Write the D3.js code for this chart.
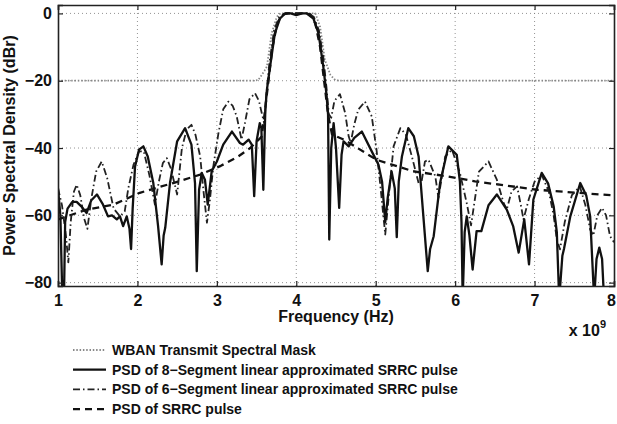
<!DOCTYPE html>
<html><head><meta charset="utf-8">
<script src="https://cdn.jsdelivr.net/npm/d3@7"></script>
<style>
body{margin:0;background:#fff;}
text{font-family:"Liberation Sans",Arial,Helvetica,sans-serif;font-weight:bold;fill:#111;}
</style></head>
<body><svg id="chart" width="617" height="424"></svg>
<script>
// ---- data (frequency in units of 1e9 Hz, PSD in dBr) ----
const xTicks = [1, 2, 3, 4, 5, 6, 7, 8];
const yTicks = [0, -20, -40, -60, -80];
const legendLabels = [
  "WBAN Transmit Spectral Mask",
  "PSD of 8\u2212Segment linear approximated SRRC pulse",
  "PSD of 6\u2212Segment linear approximated SRRC pulse",
  "PSD of SRRC pulse"
];
const maskData = [[1,-20],[3.46,-20],[3.52,-19.8],[3.565,-18.3],[3.6,-17],[3.63,-15.8],[3.69,-5.9],[3.755,-1],[3.8,0],
  [4.24,0],[4.3,-4],[4.36,-13.8],[4.43,-18.3],[4.49,-19.8],[4.55,-20],[8,-20]];
const seg8Data = [[1.0,-52],[1.03,-60],[1.055,-85],[1.075,-85],[1.09,-62],[1.12,-58],[1.18,-56],[1.235,-56],[1.3,-57.5],[1.36,-59.3],
  [1.42,-55.5],[1.49,-53.8],[1.56,-56.5],[1.63,-60.3],[1.68,-60],[1.74,-61.2],[1.78,-60.3],[1.82,-63.2],[1.865,-60.3],[1.9,-64],
  [1.92,-70],[1.94,-58],[1.97,-45.5],[2.02,-40.5],[2.075,-39.5],[2.13,-42.5],[2.2,-50.4],[2.26,-63.2],[2.305,-74.6],[2.33,-66],
  [2.35,-63.7],[2.41,-50.4],[2.5,-38],[2.6,-34.1],[2.68,-39],[2.725,-50.4],[2.747,-76.6],[2.776,-52.4],[2.81,-47.4],[2.85,-49.4],
  [2.885,-56.8],[2.935,-46.9],[3.0,-44],[3.08,-39],[3.19,-35.1],[3.29,-38.5],[3.33,-39],[3.4,-37.5],[3.44,-39],[3.47,-54.3],
  [3.5,-38],[3.54,-32.6],[3.56,-34],[3.585,-52.4],[3.61,-28.6],[3.63,-22.7],[3.67,-15.8],[3.73,-5.9],[3.795,-1.5],[3.86,0],
  [3.93,0],[4.0,-0.5],[4.07,0],[4.13,0],[4.215,-1.5],[4.28,-5.9],[4.34,-15.8],[4.38,-24],[4.4,-30],[4.415,-67.2],[4.44,-40],
  [4.47,-32.6],[4.5,-40],[4.54,-57.8],[4.57,-42],[4.595,-38],[4.66,-39.5],[4.73,-37],[4.825,-35.1],[4.95,-41],[5.035,-45],
  [5.08,-50],[5.12,-62],[5.15,-55],[5.2,-47],[5.24,-52],[5.265,-66.5],[5.29,-50],[5.33,-42.5],[5.41,-34.1],[5.48,-36.5],
  [5.54,-42.5],[5.6,-60.3],[5.655,-76.6],[5.685,-70],[5.73,-66.2],[5.81,-50.4],[5.915,-39.5],[6.02,-42],[6.06,-50],[6.08,-62],
  [6.095,-85],[6.12,-65],[6.146,-60.3],[6.18,-66],[6.22,-76.1],[6.27,-64.7],[6.33,-64.7],[6.42,-57],[6.525,-53.8],[6.65,-58.3],
  [6.73,-63.2],[6.8,-71.1],[6.87,-61.2],[6.93,-74.6],[6.985,-55.3],[7.09,-47.4],[7.17,-50.5],[7.24,-57.3],[7.28,-65],[7.31,-85],
  [7.35,-72],[7.37,-70],[7.45,-60.3],[7.575,-50.4],[7.65,-54],[7.7,-60.3],[7.75,-85],[7.78,-73],[7.815,-69.6],[7.85,-73],
  [7.875,-85],[8.0,-85]];
const seg6Data = [[1.0,-52],[1.05,-57],[1.1,-66],[1.13,-74],[1.16,-62],[1.2,-53],[1.235,-50.9],[1.28,-54],[1.33,-61],[1.37,-64],
  [1.42,-55],[1.48,-47],[1.55,-44],[1.62,-49],[1.7,-58],[1.78,-60.3],[1.84,-58.8],[1.885,-52],[1.95,-45],[2.02,-41],[2.08,-41],
  [2.15,-48],[2.22,-56.8],[2.27,-50],[2.32,-44.5],[2.37,-43],[2.42,-46],[2.5,-53.8],[2.56,-40],[2.62,-34.5],[2.68,-33.1],
  [2.73,-36],[2.79,-42.5],[2.83,-52.4],[2.875,-62.2],[2.91,-56],[2.955,-45.5],[3.02,-35.6],[3.08,-28.5],[3.145,-26.2],[3.2,-27.5],
  [3.25,-30.6],[3.31,-37.5],[3.35,-33],[3.41,-25.5],[3.48,-23.7],[3.53,-26],[3.565,-29.6],[3.6,-33],[3.62,-25],[3.66,-15],
  [3.72,-5],[3.785,-1],[3.86,0],[3.96,0],[4.04,0],[4.14,0],[4.22,-1],[4.285,-5],[4.34,-13],[4.38,-22],[4.41,-30],[4.44,-31],
  [4.48,-26],[4.55,-24],[4.615,-29.6],[4.66,-36.6],[4.685,-38.4],[4.73,-33],[4.78,-28.6],[4.865,-26.2],[4.95,-30.6],[5.01,-40.5],
  [5.055,-50.4],[5.12,-65.7],[5.16,-55.3],[5.225,-39.5],[5.31,-34.1],[5.38,-36],[5.455,-42.5],[5.54,-50.4],[5.57,-51],[5.62,-44],
  [5.665,-43.5],[5.75,-48.4],[5.79,-54.8],[5.875,-42.5],[5.96,-40.5],[6.06,-47.4],[6.145,-56.3],[6.2,-63],[6.25,-55],[6.3,-47],
  [6.42,-44],[6.525,-49.4],[6.61,-56.3],[6.65,-58.3],[6.71,-52.9],[6.78,-51.4],[6.83,-57.3],[6.86,-61.2],[6.93,-55],[7.0,-50],
  [7.09,-48],[7.18,-53],[7.24,-60],[7.28,-67.2],[7.32,-70.1],[7.38,-62],[7.47,-54],[7.57,-51.4],[7.64,-57],[7.7,-64.2],
  [7.74,-66],[7.79,-60],[7.85,-57.8],[7.9,-60],[7.95,-66.2],[8.0,-68]];
const srrcData = [[1,-61.2],[1.36,-58.3],[1.7,-56.8],[2.03,-53.3],[2.45,-50.4],[2.79,-47.9],[3.05,-45.3],[3.27,-42.5],[3.42,-40],
  [3.565,-36.6],[3.6,-30],[3.65,-20],[3.7,-10],[3.76,-3],[3.82,-0.3],[3.9,0],[4.1,0],[4.18,-0.3],[4.24,-3],[4.3,-10],[4.35,-20],
  [4.4,-30],[4.45,-36],[4.6,-37.5],[5.01,-43.5],[5.47,-46.9],[5.9,-48.4],[6.25,-49.9],[7.03,-52.4],[8.0,-54.1]];

// ---- layout ----
const svg = d3.select("#chart");
const L = 58, R = 614, T = 5, B = 286;
const x = d3.scaleLinear().domain([1, 8]).range([L, R]);
const y = d3.scaleLinear().domain([-81, 2.5]).range([B, T]);

svg.append("defs").append("clipPath").attr("id","clip")
  .append("rect").attr("x",L).attr("y",T).attr("width",R-L).attr("height",B-T);

// grid
const grid = svg.append("g");
grid.selectAll(".gx").data(xTicks.slice(1,-1)).enter().append("line")
  .attr("x1",d=>x(d)).attr("x2",d=>x(d)).attr("y1",T).attr("y2",B)
  .attr("stroke","#777").attr("stroke-width",0.8).attr("stroke-dasharray","1,3");
grid.selectAll(".gy").data(yTicks).enter().append("line")
  .attr("x1",L).attr("x2",R).attr("y1",d=>y(d)).attr("y2",d=>y(d))
  .attr("stroke","#777").attr("stroke-width",0.8).attr("stroke-dasharray","1,3");

const line = d3.line().x(d=>x(d[0])).y(d=>y(d[1]));
const styles = [
  {data:maskData, stroke:"#888", w:1.8, dash:"1.5,1.8"},
  {data:srrcData, stroke:"#111", w:2.3, dash:"7,5"},
  {data:seg6Data, stroke:"#222", w:1.8, dash:"7,3,1.5,3"},
  {data:seg8Data, stroke:"#111", w:2.3, dash:null}
];
const lg = svg.append("g").attr("clip-path","url(#clip)");
styles.forEach(s=>{
  lg.append("path").datum(s.data).attr("d",line).attr("fill","none")
    .attr("stroke",s.stroke).attr("stroke-width",s.w)
    .attr("stroke-dasharray",s.dash).attr("stroke-linejoin","round");
});

// axes (box with inward ticks)
const fmt = d=> d<0 ? "\u2212"+Math.abs(d) : String(d);
const axB = svg.append("g").attr("transform",`translate(0,${B})`)
  .call(d3.axisBottom(x).tickValues(xTicks).tickSize(-5).tickPadding(6).tickFormat(fmt));
const axT = svg.append("g").attr("transform",`translate(0,${T})`)
  .call(d3.axisTop(x).tickValues(xTicks).tickSize(-5).tickFormat(""));
const axL = svg.append("g").attr("transform",`translate(${L},0)`)
  .call(d3.axisLeft(y).tickValues(yTicks).tickSize(-5).tickPadding(6).tickFormat(fmt));
const axR = svg.append("g").attr("transform",`translate(${R},0)`)
  .call(d3.axisRight(y).tickValues(yTicks).tickSize(-5).tickFormat(""));
[axB,axT,axL,axR].forEach(a=>{
  a.select(".domain").attr("stroke","#222").attr("stroke-width",1.6);
  a.selectAll(".tick line").attr("stroke","#222").attr("stroke-width",1.2);
  a.selectAll(".tick text").attr("font-size",16).attr("font-weight","bold")
   .attr("font-family","Liberation Sans, Arial, sans-serif").attr("fill","#111");
});
axB.selectAll(".tick text").attr("dy","0.9em").attr("dx",d=> d===8 ? -3 : 0);

// axis labels
svg.append("text").attr("x",(L+R)/2).attr("y",322).attr("text-anchor","middle")
  .attr("font-size",16).text("Frequency (Hz)");
svg.append("text").attr("transform",`translate(15,${(T+B)/2}) rotate(-90)`)
  .attr("text-anchor","middle").attr("font-size",16).text("Power Spectral Density (dBr)");
const exp = svg.append("text").attr("x",606).attr("y",336).attr("text-anchor","end").attr("font-size",16);
exp.append("tspan").text("x 10");
exp.append("tspan").attr("dy",-8).attr("font-size",11).text("9");

// legend
const leg = svg.append("g");
const legStyles = [styles[0], styles[3], styles[2], styles[1]];
legendLabels.forEach((lab,i)=>{
  const yy = 350 + i*19.7;
  leg.append("line").attr("x1",73).attr("x2",106).attr("y1",yy).attr("y2",yy)
    .attr("stroke",legStyles[i].stroke).attr("stroke-width",legStyles[i].w)
    .attr("stroke-dasharray",legStyles[i].dash);
  leg.append("text").attr("x",112).attr("y",yy).attr("dy","0.35em")
    .attr("font-size",14).text(lab);
});
</script></body></html>
